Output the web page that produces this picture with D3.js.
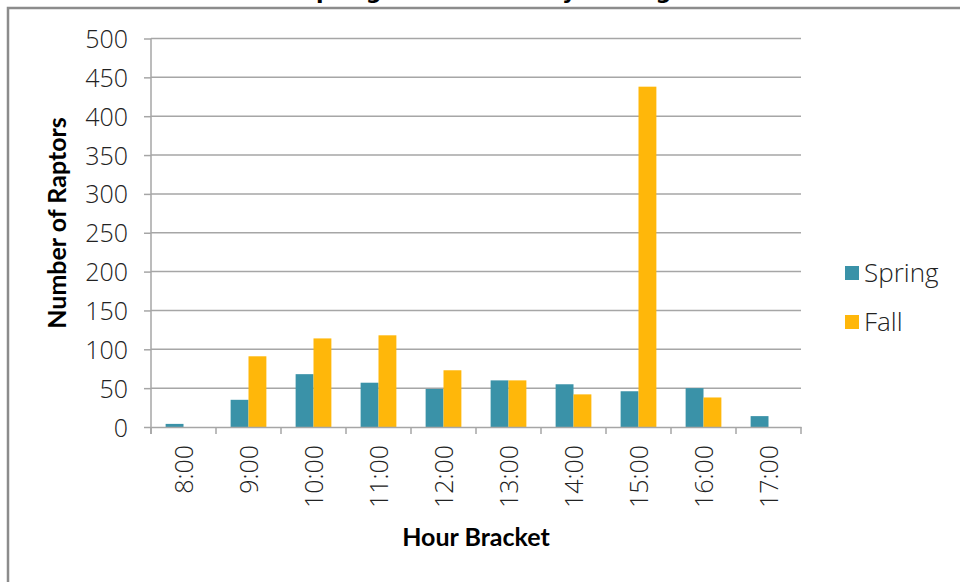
<!DOCTYPE html>
<html><head><meta charset="utf-8">
<script src="https://cdn.jsdelivr.net/npm/d3@7"></script>
<style>
body{margin:0;background:#fff;}
svg{display:block;}
</style></head>
<body>
<svg id="c" width="960" height="582"></svg>
<script>
const hours = ["8:00","9:00","10:00","11:00","12:00","13:00","14:00","15:00","16:00","17:00"];
const spring = [4,35,68,57,49,60,55,46,50,14];
const fall = [0,91,114,118,73,60,42,438,38,0];
const seriesNames = ["Spring","Fall"];
const seriesColors = ["#3A92A8","#FFB70A"];
const yTicks = [0,50,100,150,200,250,300,350,400,450,500];

(function(){
const svg = d3.select("#c");
const pLeft = 151, pRight = 801, pTop = 38.5, pBottom = 427;
const boldFont = "'Century Gothic','URW Gothic',Lato,'DejaVu Sans',sans-serif";
const lightFont = "'Open Sans','DejaVu Sans',sans-serif";

// frame
svg.append("path").attr("d","M8,582 V8 H960").attr("fill","none").attr("stroke","#8c8c8c").attr("stroke-width",2.5);

// title (cut off at the top edge, as in the reference)
svg.append("text").attr("x",484).attr("y",-1.5).attr("text-anchor","middle")
  .attr("font-family","'DejaVu Sans',sans-serif").attr("font-weight","bold").attr("font-size",22).attr("fill","#000")
  .text("Overall Spring and Fall Hourly Passage Rates");

const x = d3.scaleBand().domain(hours).range([pLeft,pRight]).paddingInner(0.45).paddingOuter(0.225);
const xs = d3.scaleBand().domain(seriesNames).range([0,x.bandwidth()]);
const y = d3.scaleLinear().domain([0,500]).range([pBottom,pTop]);

// gridlines
svg.append("g").selectAll("line").data(yTicks.filter(d=>d>0)).join("line")
  .attr("x1",pLeft).attr("x2",pRight).attr("y1",d=>y(d)).attr("y2",d=>y(d))
  .attr("stroke","#a6a6a6").attr("stroke-width",1.5);

// bars
const data = hours.map((h,i)=>({h, vals:[spring[i],fall[i]]}));
const g = svg.append("g").selectAll("g").data(data).join("g").attr("transform",d=>`translate(${x(d.h)},0)`);
g.selectAll("rect").data(d=>d.vals.map((v,j)=>({v,j}))).join("rect")
  .attr("x",d=>xs(seriesNames[d.j])).attr("width",xs.bandwidth())
  .attr("y",d=>y(d.v)).attr("height",d=>pBottom-y(d.v))
  .attr("fill",d=>seriesColors[d.j]);

// y axis
const ya = svg.append("g").attr("transform",`translate(${pLeft},0)`)
  .call(d3.axisLeft(y).tickValues(yTicks).tickSize(7).tickPadding(16).tickSizeOuter(0));
ya.select(".domain").attr("stroke","#a6a6a6").attr("stroke-width",1.5).attr("d",`M0,${pTop}V${pBottom+7}`);
ya.selectAll(".tick line").attr("stroke","#a6a6a6").attr("stroke-width",1.5);
ya.selectAll(".tick text").attr("font-family",lightFont).attr("font-weight",300).attr("font-size",25).attr("fill","#222").attr("dy","0.36em");

// x axis
const xa = svg.append("g").attr("transform",`translate(0,${pBottom})`)
  .call(d3.axisBottom(x).tickSize(0).tickSizeOuter(0));
xa.select(".domain").attr("stroke","#a6a6a6").attr("stroke-width",1.5);
const bounds = d3.range(hours.length+1).map(i=>pLeft + i*x.step());
xa.append("g").selectAll("line").data(bounds).join("line")
  .attr("x1",d=>d).attr("x2",d=>d).attr("y1",0).attr("y2",7)
  .attr("stroke","#a6a6a6").attr("stroke-width",1.5);
xa.selectAll(".tick text")
  .attr("font-family",lightFont).attr("font-weight",300).attr("font-size",25).attr("fill","#222")
  .attr("transform","rotate(-90)").attr("text-anchor","end")
  .attr("x",-18).attr("y",0).attr("dy","0.36em");

// axis titles
svg.append("text").attr("x",476).attr("y",546).attr("text-anchor","middle")
  .attr("font-family",boldFont).attr("font-weight","bold").attr("font-size",25).attr("fill","#000")
  .text("Hour Bracket");
svg.append("text").attr("transform","translate(66,223) rotate(-90)").attr("text-anchor","middle")
  .attr("font-family",boldFont).attr("font-weight","bold").attr("font-size",25).attr("fill","#000")
  .text("Number of Raptors");

// legend
const lg = svg.append("g").selectAll("g").data(seriesNames).join("g")
  .attr("transform",(d,i)=>`translate(845,${266+i*49})`);
lg.append("rect").attr("width",14).attr("height",14).attr("fill",(d,i)=>seriesColors[i]);
lg.append("text").attr("x",19).attr("y",7).attr("dy","0.36em")
  .attr("font-family",lightFont).attr("font-weight",300).attr("font-size",26).attr("fill","#222")
  .text(d=>d);
})();
</script>
</body></html>
